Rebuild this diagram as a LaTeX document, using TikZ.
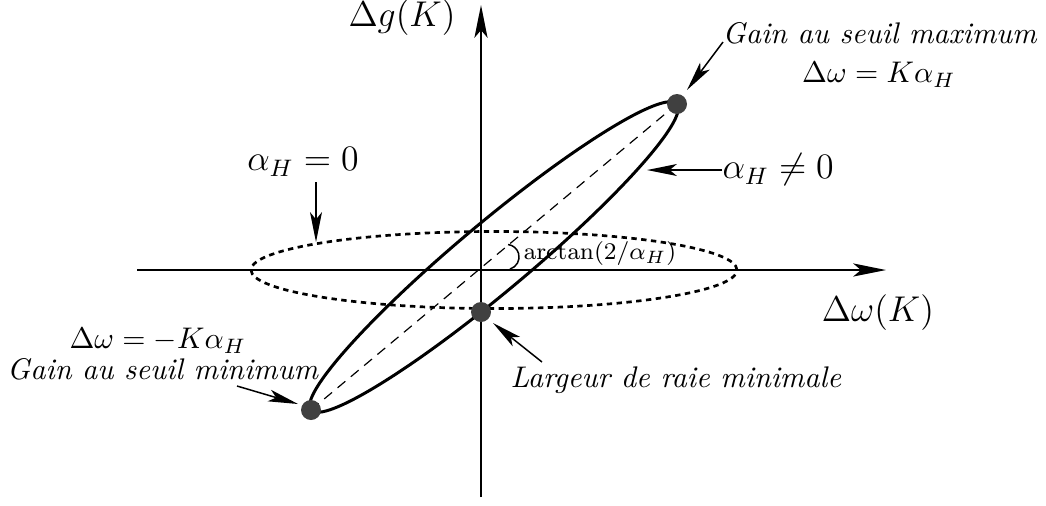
\documentclass[tikz,border=0pt]{standalone}
\usetikzlibrary{arrows.meta}
\begin{document}
\begin{tikzpicture}[x=0.335pt,y=-0.335pt,
  axis/.style={line width=0.5pt,-{Stealth[length=11pt,width=4.4pt,inset=2.6pt]}},
  note/.style={line width=0.5pt,-{Stealth[length=10pt,width=4pt,inset=2.4pt]}},
  dotpt/.style={circle,fill=black!75,inner sep=0pt,minimum size=6.7pt},
  lbl/.style={inner sep=0pt}]
\useasboundingbox (0,0) rectangle (1046,505);
% axes
\coordinate (O) at (481,270);
\coordinate (xl) at (137,270); \coordinate (xr) at (886,270);
\coordinate (yb) at (481,497); \coordinate (yt) at (481,5);
\draw[axis] (xl) -- (xr);
\draw[axis] (yb) -- (yt);
% dotted ellipse (alpha_H = 0)
\coordinate (E0) at (494,270);
\draw[line width=0.9pt, dash pattern=on 1.8pt off 1.5pt] (E0) ellipse [x radius=81.4pt, y radius=12.9pt];
% tilted ellipse
\coordinate (A) at (311,410); \coordinate (B) at (677,104);
\coordinate (C) at (494,257);
\coordinate (M) at (481,312);
\draw[line width=1pt, rotate around={39.9:(C)}] (C) ellipse [x radius=79.9pt, y radius=11.6pt];
\draw[line width=0.4pt, dash pattern=on 3.4pt off 2.4pt] (A) -- (B);
% angle mark
\coordinate (P1) at (510,269);
\draw[line width=0.5pt] (P1) arc[start angle=-74,end angle=83,radius=4.2pt];
% dots
\node[dotpt] (dA) at (A) {};
\node[dotpt] (dB) at (B) {};
\node[dotpt] (dM) at (M) {};
% labels
\node[lbl] (ly) at (402,18) {\large $\Delta g(K)$};
\node[lbl] (lx) at (878,313) {\large $\Delta\omega(K)$};
\node[lbl] (la0) at (303,162) {\large $\alpha_H = 0$};
\node[lbl,anchor=west] (lan) at (722,170) {\large $\alpha_H \neq 0$};
\node[lbl] (lmax) at (880,33) {\textit{Gain au seuil maximum}};
\node[lbl] (lmaxeq) at (879,75) {$\Delta\omega = K\alpha_H$};
\node[lbl] (lmineq) at (158,341) {$\Delta\omega = -K\alpha_H$};
\node[lbl] (lmin) at (163,369) {\textit{Gain au seuil minimum}};
\node[lbl,anchor=west] (llarg) at (510,380) {\textit{Largeur de raie minimale}};
\node[lbl,anchor=west] (larc) at (523,254) {\footnotesize $\arctan(2/\alpha_H)$};
% annotation arrows
\coordinate (a0s) at (316,182); \coordinate (a0e) at (316,242);
\draw[note] (a0s) -- (a0e);
\coordinate (ane) at (647,170);
\draw[note] (lan.west) -- (ane);
\coordinate (amaxs) at (723,42); \coordinate (amaxe) at (687,90);
\draw[note] (amaxs) -- (amaxe);
\coordinate (amins) at (237,386); \coordinate (amine) at (298,404);
\draw[note] (amins) -- (amine);
\coordinate (alas) at (542,362); \coordinate (alae) at (493,323);
\draw[note] (alas) -- (alae);
\end{tikzpicture}
\end{document}
